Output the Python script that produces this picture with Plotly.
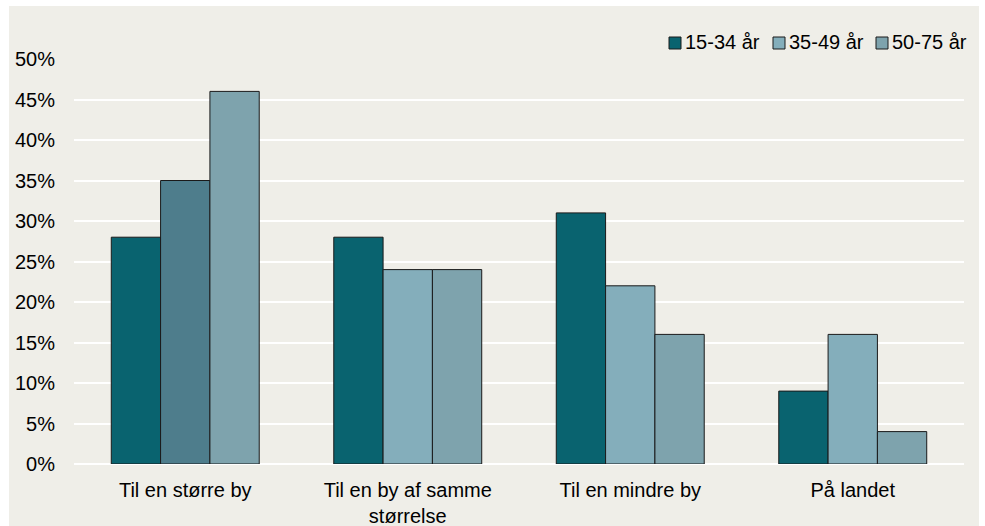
import plotly.graph_objects as go

categories = ["Til en større by", "Til en by af samme<br>størrelse", "Til en mindre by", "På landet"]
series_names = ["15-34 år", "35-49 år", "50-75 år"]
v_15_34 = [0.28, 0.28, 0.31, 0.09]
v_35_49 = [0.35, 0.24, 0.22, 0.16]
v_50_75 = [0.46, 0.24, 0.16, 0.04]
y_ticks = [0, 0.05, 0.10, 0.15, 0.20, 0.25, 0.30, 0.35, 0.40, 0.45, 0.50]

c1 = "#09636F"
c2 = "#84AEBB"
c2_first = "#4E7D8C"
c3 = "#7EA3AD"

W, H = 985, 526
L, R, T, B = 74, 21, 59, 62
pw, ph = W - L - R, H - T - B

fig = go.Figure()
line = dict(color="#1a1a1a", width=1)
fig.add_trace(go.Bar(x=categories, y=v_15_34, name=series_names[0], marker=dict(color=c1, line=line), showlegend=False))
fig.add_trace(go.Bar(x=categories, y=v_35_49, name=series_names[1], marker=dict(color=[c2_first, c2, c2, c2], line=line), showlegend=False))
fig.add_trace(go.Bar(x=categories, y=v_50_75, name=series_names[2], marker=dict(color=c3, line=line), showlegend=False))


def px_x(x):
    return (x - L) / pw


def px_y(y):
    return (H - B - y) / ph


fig.add_shape(type="rect", xref="paper", yref="paper", layer="below",
              x0=px_x(9), x1=px_x(979), y0=px_y(526), y1=px_y(6),
              fillcolor="#EFEEE8", line=dict(width=0))

# custom legend (symbols + text)
legend_x = [669, 773, 876]
for nm, col, lx in zip(series_names, [c1, c2, c3], legend_x):
    fig.add_shape(type="rect", xref="paper", yref="paper",
                  x0=px_x(lx), x1=px_x(lx + 12), y0=px_y(49), y1=px_y(37),
                  fillcolor=col, line=dict(color="#1a1a1a", width=1))
    fig.add_annotation(xref="paper", yref="paper", x=px_x(lx + 14), y=px_y(42),
                       xanchor="left", yanchor="middle", text=nm, showarrow=False,
                       font=dict(size=20, color="#000000"))

fig.update_layout(
    width=W, height=H,
    margin=dict(l=L, r=R, t=T, b=B, autoexpand=False),
    paper_bgcolor="white",
    plot_bgcolor="#E0DFD4",
    barmode="group", bargap=0.335, bargroupgap=0,
    showlegend=False,
    font=dict(family="Liberation Sans, Arial", size=20, color="#000000"),
    xaxis=dict(showgrid=False, ticks="", showline=False, tickfont=dict(size=20), ticklabelstandoff=12),
    yaxis=dict(range=[0, 0.5], tickvals=y_ticks, tickformat=".0%", showgrid=True,
               gridcolor="white", gridwidth=2, zeroline=True, zerolinecolor="white", zerolinewidth=2,
               showline=False, ticks="", ticklabelstandoff=18, tickfont=dict(size=20)),
)

fig.write_html("out.html", config={"displayModeBar": False},
               post_script="document.body.style.margin='0';document.body.style.overflow='hidden';")
